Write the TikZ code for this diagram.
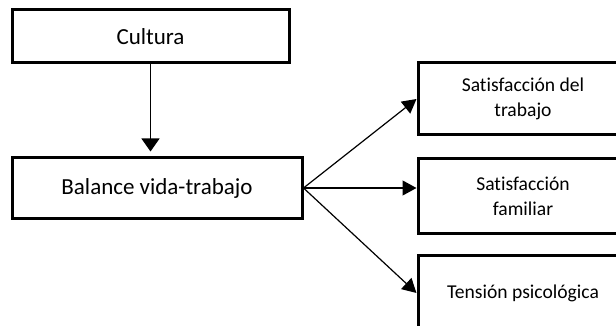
\documentclass[tikz,border=0pt]{standalone}
\usepackage{fontspec}
\setmainfont[Ligatures=NoCommon]{Carlito}
\usepackage{tikz}
\usetikzlibrary{arrows.meta,positioning}

\begin{document}
\begin{tikzpicture}[x=0.5pt,y=-0.5pt,font=\fontsize{11.5}{13}\selectfont,
    mainbox/.style={draw,line width=1.5pt,fill=white,inner sep=0pt},
    outbox/.style={mainbox,minimum width=105pt,align=center,font=\fontsize{9.8}{12.5}\selectfont},
    link/.style={-{Triangle[length=7pt,width=7.5pt]},line width=0.6pt}]
    \useasboundingbox (0,0) rectangle (616,326);
    \clip (0,0) rectangle (616,326);
    \node[mainbox,minimum width=138.5pt,minimum height=26.5pt] (cul) at (150.5,36.5) {Cultura};
    \node[mainbox,minimum width=145pt,minimum height=30pt] (bal) at (157,188) {Balance vida-trabajo};
    \node[outbox,minimum height=36pt] (sat1) at (523,99) {Satisfacción del\\trabajo};
    \node[outbox,minimum height=37pt] (sat2) at (523,196) {Satisfacción\\familiar};
    \node[outbox,minimum height=38pt] (ten) at (523,293) {Tensión psicológica};
    % arrows
    \draw[link,-{Triangle[length=6.5pt,width=9pt]},shorten >=2.5pt] (cul.south) -- (cul.south |- bal.north);
    \draw[link] (bal.east) -- (sat1.west);
    \draw[link] (bal.east) -- (bal.east -| sat2.west);
    \draw[link] (bal.east) -- (ten.west);
  \end{tikzpicture}
\end{document}
